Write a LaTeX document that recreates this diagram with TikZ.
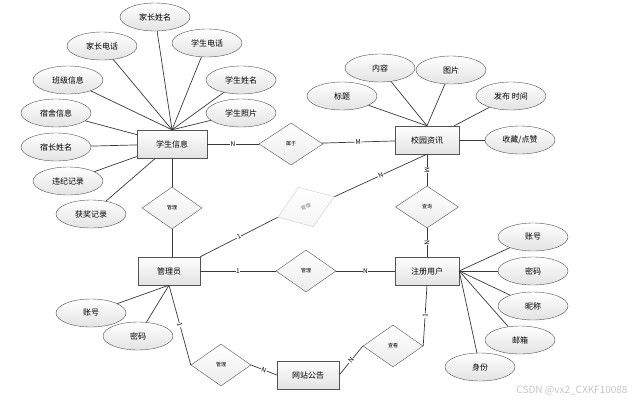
\documentclass[tikz,border=0pt]{standalone}
\usepackage{fontspec}
\setmainfont{Noto Sans CJK SC}
\usetikzlibrary{shapes.geometric,shadows}

\begin{document}
\begin{tikzpicture}[x=1pt,y=-1pt,every node/.style={font=\fontsize{8}{9}\selectfont},
  entity/.style={rectangle,draw=gray!65!black,minimum width=64,minimum height=28,top color=white,bottom color=gray!22,drop shadow={shadow xshift=1pt,shadow yshift=-1pt,opacity=0.3}},
  attr/.style={ellipse,draw=gray!65!black,minimum width=70,minimum height=28,inner sep=0,top color=white,bottom color=gray!22},
  rel/.style={diamond,draw=gray!65!black,aspect=1.4,inner sep=0,minimum width=60,minimum height=42,top color=white,bottom color=gray!15,font=\fontsize{5}{6}\selectfont},
  lbl/.style={fill=white,inner sep=0.5pt,sloped,font=\fontsize{6.5}{7}\selectfont},
  link/.style={draw=gray!45!black,line width=0.7pt}]
\useasboundingbox (0,0) rectangle (643,402);

\node[entity,minimum width=70] (student) at (172,144) {学生信息};
\node[entity] (news) at (427,140) {校园资讯};
\node[entity,minimum width=62] (admin) at (169,271) {管理员};
\node[entity] (user) at (427,271) {注册用户};
\node[entity,minimum width=62] (notice) at (308,375) {网站公告};

\node[rel,minimum width=64] (belong) at (291,144) {属于};
\node[rel] (mgrS) at (172,208) {管理};
\node[rel,rotate=20,draw=gray!40,text=gray,bottom color=gray!8] (mgrN) at (306,207) {管理};
\node[rel,minimum width=63] (query) at (427,207) {查询};
\node[rel] (mgrU) at (306,271) {管理};
\node[rel] (mgrA) at (221,365) {管理};
\node[rel] (view) at (393,346) {查看};

\node[attr] (parName) at (155,17) {家长姓名};
\node[attr] (parTel) at (102,46) {家长电话};
\node[attr] (stuTel) at (207,43) {学生电话};
\node[attr] (clsInfo) at (68,80) {班级信息};
\node[attr] (stuName) at (241,80) {学生姓名};
\node[attr] (dormInfo) at (56,113) {宿舍信息};
\node[attr] (stuPhoto) at (241,113) {学生照片};
\node[attr] (dormHead) at (56,147) {宿长姓名};
\node[attr] (discipline) at (68,181) {违纪记录};
\node[attr] (award) at (91,214) {获奖记录};

\node[attr] (content) at (380,68) {内容};
\node[attr] (picture) at (451,70) {图片};
\node[attr] (title) at (342,96) {标题};
\node[attr] (pubTime) at (511,96) {发布 时间};
\node[attr] (favLike) at (520,140) {收藏/点赞};

\node[attr] (userAcc) at (533,237) {账号};
\node[attr] (userPwd) at (533,271) {密码};
\node[attr] (userNick) at (533,306) {昵称};
\node[attr] (userMail) at (520,340) {邮箱};
\node[attr] (userRole) at (480,367) {身份};

\node[attr] (adminAcc) at (91,313) {账号};
\node[attr] (adminPwd) at (138,336) {密码};

\draw[link] (parName) -- (student.north);
\draw[link] (parTel) -- (student.north);
\draw[link] (stuTel) -- (student.north);
\draw[link] (clsInfo) -- (student.north);
\draw[link] (stuName) -- (student.north);
\draw[link] (stuPhoto) -- (student.north);
\draw[link] (dormInfo) -- (student);
\draw[link] (dormHead) -- (student);
\draw[link] (discipline) -- (student);
\draw[link] (award) -- (student);

\draw[link] (content) -- (news.north);
\draw[link] (picture) -- (news.north);
\draw[link] (title) -- (news.north);
\draw[link] (pubTime) -- (news);
\draw[link] (favLike) -- (news);

\draw[link] (userAcc) -- (user.east);
\draw[link] (userPwd) -- (user.east);
\draw[link] (userNick) -- (user.east);
\draw[link] (userMail) -- (user.east);
\draw[link] (userRole) -- (user.east);

\draw[link] (adminAcc) -- (admin.south);
\draw[link] (adminPwd) -- (admin.south);

\draw[link] (student) -- node[lbl] {N} (belong);
\draw[link] (belong) -- node[lbl] {M} (news);
\draw[link] (student) -- (mgrS);
\draw[link] (mgrS) -- (mgrS |- admin.north);
\draw[link] (admin.north east) -- node[lbl] {1} (mgrN.west);
\draw[link] (mgrN.east) -- node[lbl] {N} (news.south);
\draw[link] (news) -- node[lbl] {M} (query);
\draw[link] (query) -- node[lbl] {N} (user);
\draw[link] (admin) -- node[lbl] {1} (mgrU);
\draw[link] (mgrU) -- node[lbl] {N} (user);
\draw[link] (admin.south) -- node[lbl] {1} (mgrA.west);
\draw[link] (mgrA.east) -- node[lbl] {N} (notice.west);
\draw[link] (notice.east) -- node[lbl] {N} (view.west);
\draw[link] (view.east) -- node[lbl] {1} (user.south);

\node[text=gray!45,font=\fontsize{10}{12}\selectfont] (mark) at (572,391) {CSDN @vx2\_CXKF10088};
\end{tikzpicture}
\end{document}
